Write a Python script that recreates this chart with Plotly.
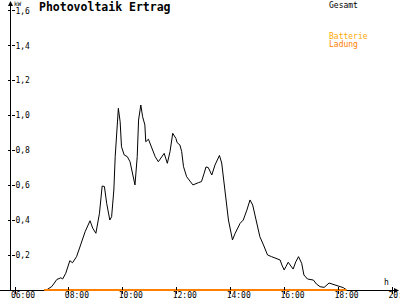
import plotly.graph_objects as go

DAY = "2024-06-01 "

# Gesamt (kW) readings
gesamt_time = ["07:05", "07:10", "07:22", "07:33", "07:42", "07:46", "07:53", "08:02", "08:08", "08:17", "08:26",
               "08:36", "08:47", "08:53", "09:00", "09:08", "09:14", "09:19", "09:24", "09:31", "09:35",
               "09:40", "09:43", "09:50", "09:54", "09:57", "10:03", "10:10", "10:16", "10:22", "10:27",
               "10:32", "10:35", "10:40", "10:44", "10:49", "10:51", "10:57", "11:04", "11:12", "11:19",
               "11:24", "11:32", "11:39", "11:45", "11:51", "11:58", "12:01", "12:07", "12:11", "12:15",
               "12:22", "12:30", "12:36", "12:48", "12:55", "13:01", "13:05", "13:10", "13:18", "13:25",
               "13:35", "13:40", "13:44", "13:49", "13:55", "14:04", "14:10", "14:21", "14:28", "14:36",
               "14:43", "14:49", "14:56", "15:05", "15:13", "15:22", "15:31", "15:42", "15:50", "15:54",
               "15:59", "16:03", "16:08", "16:19", "16:25", "16:31", "16:38", "16:43", "16:51", "17:04",
               "17:11", "17:19", "17:28", "17:39", "17:47", "17:56", "18:11", "18:18"]
gesamt_kw = [0.0, 0.0, 0.02, 0.06, 0.07, 0.063, 0.096, 0.168, 0.156, 0.191, 0.258,
             0.334, 0.397, 0.354, 0.325, 0.44, 0.596, 0.593, 0.497, 0.401, 0.42,
             0.573, 0.764, 1.041, 0.964, 0.821, 0.774, 0.764, 0.735, 0.669, 0.602,
             0.764, 0.974, 1.06, 0.993, 0.946, 0.85, 0.864, 0.821, 0.764, 0.735,
             0.755, 0.783, 0.726, 0.793, 0.898, 0.869, 0.844, 0.831, 0.793, 0.707,
             0.649, 0.621, 0.602, 0.615, 0.621, 0.669, 0.705, 0.702, 0.659, 0.716,
             0.771, 0.728, 0.64, 0.516, 0.401, 0.287, 0.325, 0.382, 0.401, 0.458,
             0.516, 0.487, 0.411, 0.305, 0.258, 0.201, 0.191, 0.182, 0.172, 0.143,
             0.115, 0.134, 0.159, 0.12, 0.162, 0.191, 0.153, 0.086, 0.063, 0.057,
             0.034, 0.019, 0.015, 0.04, 0.034, 0.023, 0.013, 0.0]

# Batterie Ladung (kW)
ladung_time = ["07:05", "18:18"]
ladung_kw = [0.0, 0.0]

tick_hours = ["06:00", "08:00", "10:00", "12:00", "14:00", "16:00", "18:00", "20:00"]
y_ticks = [0.2, 0.4, 0.6, 0.8, 1.0, 1.2, 1.4, 1.6]
y_ticktext = ["0,2", "0,4", "0,6", "0,8", "1,0", "1,2", "1,4", "1,6"]

FONT = "DejaVu Sans Mono"
X_RANGE = [DAY + "05:26:37", DAY + "20:16:49"]
Y_RANGE = [-0.0573, 1.6619]
X_AX_POS = 10 / 300
Y_AX_POS = 10.5 / 400

fig = go.Figure()
fig.add_trace(go.Scatter(x=[DAY + t for t in gesamt_time], y=gesamt_kw, mode="lines",
                         line=dict(color="black", width=1), name="Gesamt", hoverinfo="skip"))
fig.add_trace(go.Scatter(x=[DAY + t for t in ladung_time], y=ladung_kw, mode="lines",
                         line=dict(color="#FF8000", width=2), name="Batterie Ladung", hoverinfo="skip"))

tickvals_x = [DAY + t for t in tick_hours]
common_x = dict(type="date", range=X_RANGE, domain=[0, 1], anchor="free", position=X_AX_POS,
                showgrid=False, zeroline=False, showline=False, tickvals=tickvals_x, tickcolor="black",
                ticklen=3, tickwidth=1, automargin=False)
common_y = dict(range=Y_RANGE, domain=[0, 1], anchor="free", position=Y_AX_POS, showgrid=False,
                zeroline=False, showline=False, tickvals=y_ticks, ticklen=3, tickcolor="black",
                tickwidth=1, automargin=False)
fig.update_layout(
    width=400, height=300, margin=dict(l=0, r=0, t=0, b=0, autoexpand=False),
    paper_bgcolor="white", plot_bgcolor="white", showlegend=False,
    xaxis=dict(**common_x, ticks="outside", ticktext=tick_hours, ticklabelshift=8,
               ticklabelstandoff=-6, ticklabeloverflow="allow",
               tickfont=dict(family=FONT, size=8, color="black")),
    xaxis2=dict(**common_x, overlaying="x", ticks="inside", showticklabels=False),
    yaxis=dict(**common_y, ticktext=y_ticktext, ticks="outside", ticklabelposition="outside",
               ticklabelstandoff=-24, ticklabeloverflow="allow",
               tickfont=dict(family=FONT, size=8, color="black")),
    yaxis2=dict(**common_y, overlaying="y", ticks="inside", showticklabels=False),
)
# invisible trace to activate the overlay axes
fig.add_trace(go.Scatter(x=[X_RANGE[0]], y=[0], xaxis="x2", yaxis="y2", mode="markers",
                         marker=dict(opacity=0), hoverinfo="skip", showlegend=False))

# axis lines (pixel-exact, paper coords)
fig.add_shape(type="line", xref="paper", yref="paper", layer="below",
              x0=Y_AX_POS, x1=Y_AX_POS, y0=9 / 300, y1=1 - 2 / 300, line=dict(color="black", width=1))
fig.add_shape(type="line", xref="paper", yref="paper", layer="below",
              x0=0, x1=397 / 400, y0=9.5 / 300, y1=9.5 / 300, line=dict(color="black", width=1))

# arrows
fig.add_annotation(xref="paper", yref="paper", x=Y_AX_POS, y=1 - 1 / 300, ax=0, ay=10, text="",
                   showarrow=True, arrowhead=2, arrowsize=1, arrowwidth=1, arrowcolor="black")
fig.add_annotation(xref="paper", yref="paper", x=399 / 400, y=9.5 / 300, ax=-10, ay=0, text="",
                   showarrow=True, arrowhead=2, arrowsize=1, arrowwidth=1, arrowcolor="black")

def txt(x, y, s, size=8, color="black", weight="normal"):
    fig.add_annotation(xref="paper", yref="paper", x=x / 400, y=1 - y / 300, text=s,
                       showarrow=False, xanchor="left", yanchor="middle", borderpad=0,
                       font=dict(family=FONT, size=size, color=color, weight=weight))

txt(38, 7, "Photovoltaik Ertrag", size=11.5, weight="bold")
txt(13, 3.5, "kW", size=6)
txt(383, 282, "h", size=8)
txt(328, 5, "Gesamt", size=8)
txt(328, 36, "Batterie", size=8, color="#FFAA00")
txt(328, 44, "Ladung", size=8, color="#FF8000")

fig.write_html("out.html")
